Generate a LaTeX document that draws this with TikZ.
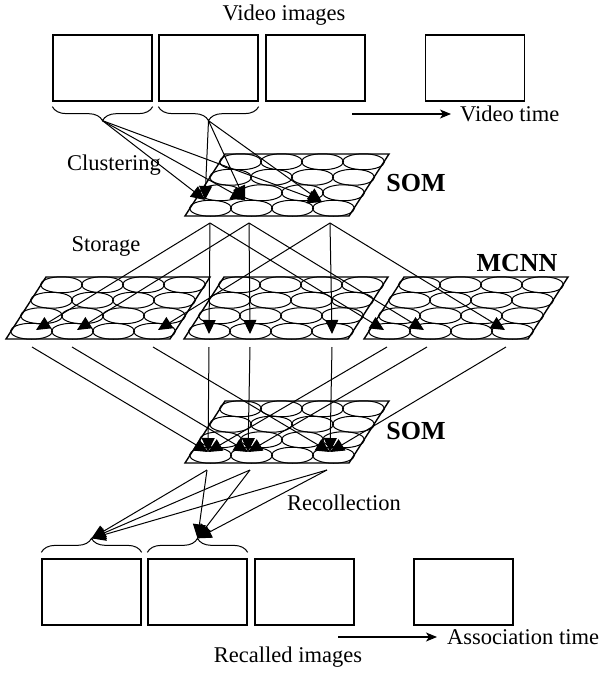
\documentclass[tikz,border=0pt]{standalone}
\usepackage{fontspec}
\setmainfont{Liberation Serif}
\usetikzlibrary{arrows.meta,decorations.pathreplacing}
\tikzset{
  frame/.style={draw, line width=1.3pt, minimum width=99pt, minimum height=66pt, inner sep=0pt},
  mapedge/.style={draw, line width=1.4pt},
  cell/.style={draw, line width=1pt},
  link/.style={line width=1pt, -{Triangle[length=14pt,width=13pt]}},
  grp/.style={decorate, line width=1pt, decoration={brace, amplitude=14pt}},
  timeline/.style={line width=1.1pt, -{Stealth[length=11pt,width=9pt,inset=3pt]}},
  txt/.style={font=\fontsize{22.5}{26}\selectfont, inner sep=0pt},
  mapname/.style={font=\fontsize{26}{30}\selectfont\bfseries, inner sep=0pt}
}
% one 4x4 map, #1/#2 = lower left corner
\newcommand{\somgrid}[2]{%
  \draw[mapedge] (#1,#2) -- ++(164,0) -- ++(40,-62) -- ++(-164,0) -- cycle;
  \foreach \r in {0,...,3}
    \foreach \c in {0,...,3}
      \draw[cell] ({#1+25.5+\r*10+\c*41},{#2-7.75-\r*15.5}) ellipse (21pt and 8pt);
}

\begin{document}
\begin{tikzpicture}[x=1pt, y=-1pt]
  \useasboundingbox (0,0) rectangle (603,673);
  %% input frames
  \node[txt] (vimg) at (284,15) {Video images};
  \node[frame] (v1) at (102.5,68) {};
  \node[frame] (v2) at (208.5,68) {};
  \node[frame] (v3) at (315.5,68) {};
  \node[frame] (v4) at (475,68) {};
  \draw[grp, decoration={mirror}] ([yshift=-5pt]v1.south west) -- ([yshift=-5pt]v1.south east);
  \draw[grp, decoration={mirror}] ([yshift=-5pt]v2.south west) -- ([yshift=-5pt]v2.south east);
  \coordinate (c1) at ([yshift=-19pt]v1.south);
  \coordinate (c2) at ([yshift=-19pt]v2.south);
  \node[txt, anchor=west] (vtime) at (460,114) {Video time};
  \coordinate (vt) at (352,114);
  \draw[timeline] (vt) -- ([xshift=-9pt]vtime.west);
  %%
  \node[txt] (clus) at (114,165) {Clustering};
  \node[mapname] (som1) at (416,183) {SOM};
  \node[txt] (stor) at (106,246) {Storage};
  \node[mapname] (mcnn) at (517,263) {MCNN};
  \node[mapname] (som2) at (416,431) {SOM};
  \node[txt] (recol) at (344,503) {Recollection};
  %% maps
  \somgrid{185}{216}
  \somgrid{6}{339}
  \somgrid{184}{339}
  \somgrid{364}{339}
  \somgrid{185}{463}
  %% winner units (heads) and their outgoing points (tails)
  \coordinate (s1) at (205,200);  \coordinate (s2) at (245,200);  \coordinate (s3) at (322,202);
  \coordinate (t1) at (210,223);  \coordinate (t2) at (249,223);  \coordinate (t3) at (330,223);
  \coordinate (ma1) at (36,330);  \coordinate (ma2) at (77,330);  \coordinate (ma3) at (158,330);
  \coordinate (mb1) at (209,334); \coordinate (mb2) at (250,334); \coordinate (mb3) at (332,334);
  \coordinate (mc1) at (384,330); \coordinate (mc2) at (424,330); \coordinate (mc3) at (505,330);
  \coordinate (ua1) at (32,347);  \coordinate (ua2) at (72,347);  \coordinate (ua3) at (153,347);
  \coordinate (ub1) at (209,347); \coordinate (ub2) at (250,347); \coordinate (ub3) at (332,347);
  \coordinate (uc1) at (387,347); \coordinate (uc2) at (427,347); \coordinate (uc3) at (506,347);
  \coordinate (q1) at (208,452);  \coordinate (q2) at (248,452);  \coordinate (q3) at (330,452);
  \coordinate (w1) at (207,470);  \coordinate (w2) at (250,470);  \coordinate (w3) at (327,470);
  %% recalled frames
  \node[frame] (r1) at (91.5,592) {};
  \node[frame] (r2) at (197.5,592) {};
  \node[frame] (r3) at (304.5,592) {};
  \node[frame] (r4) at (463.5,592) {};
  \draw[grp] ([yshift=6pt]r1.north west) -- ([yshift=6pt]r1.north east);
  \draw[grp] ([yshift=6pt]r2.north west) -- ([yshift=6pt]r2.north east);
  \coordinate (d1) at ([yshift=20pt]r1.north);
  \coordinate (d2) at ([yshift=20pt]r2.north);
  \node[txt, anchor=west] (atime) at (447,637) {Association time};
  \coordinate (at) at (338,637);
  \draw[timeline] (at) -- ([xshift=-10pt]atime.west);
  \node[txt] (rimg) at (288,657) {Recalled images};
  %% connections
  \foreach \a in {c1,c2}
    \foreach \b in {s1,s2,s3}
      \draw[link] (\a) -- (\b);
  \foreach \k in {1,2,3}
    \foreach \m in {a,b,c}
      \draw[link] (t\k) -- (m\m\k);
  \foreach \m in {a,b,c}
    \foreach \k in {1,2,3}
      \draw[link] (u\m\k) -- (q\k);
  \foreach \k in {1,2,3}
    \foreach \d in {d1,d2}
      \draw[link] (w\k) -- (\d);
\end{tikzpicture}
\end{document}
